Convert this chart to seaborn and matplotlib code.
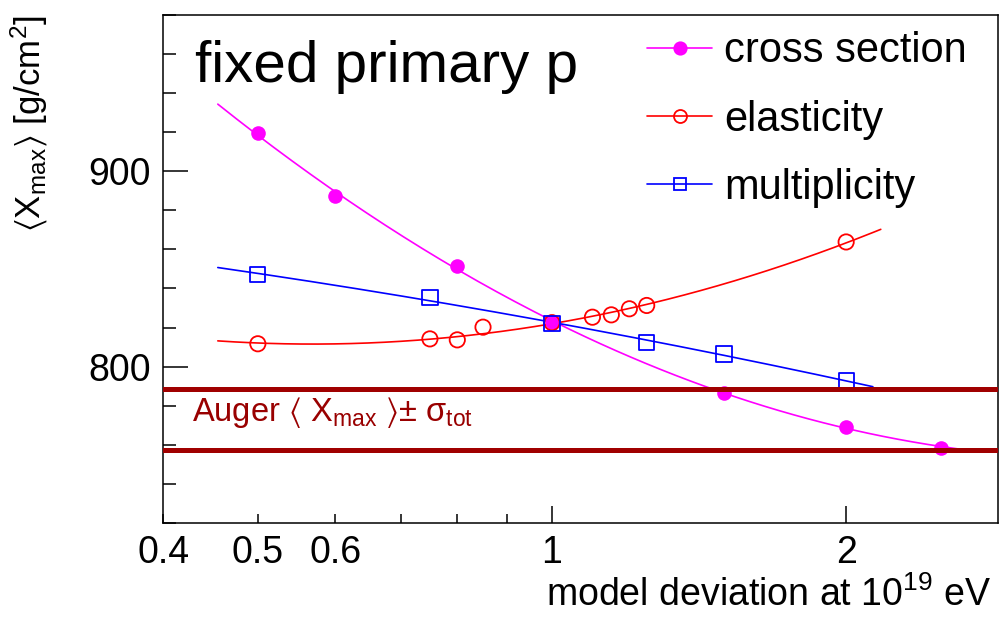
import numpy as np
import matplotlib
matplotlib.use("Agg")
import matplotlib.pyplot as plt
from matplotlib.lines import Line2D
from matplotlib.ticker import FixedLocator, FixedFormatter
import pandas as pd
import seaborn as sns

# Model-deviation scans of <Xmax> at 10^19 eV (fixed primary: proton)
cross_x = [0.5, 0.6, 0.8, 1.0, 1.5, 2.0, 2.5]
cross_y = [919.6, 887.2, 851.4, 822.8, 786.3, 769.3, 758.6]

elast_x = [0.5, 0.75, 0.8, 0.85, 1.0, 1.1, 1.15, 1.2, 1.25, 2.0]
elast_y = [811.7, 814.2, 813.7, 820.2, 822.5, 825.3, 826.5, 829.6, 831.3, 863.8]

mult_x = [0.5, 0.75, 1.0, 1.25, 1.5, 2.0]
mult_y = [847.2, 835.3, 821.9, 812.5, 806.5, 792.8]

# Fit ranges of the smooth curves
cross_fit_range = [0.455, 2.6]
elast_fit_range = [0.455, 2.17]
mult_fit_range = [0.455, 2.13]

# Auger <Xmax> +- sigma_tot band edges
auger_band = [788.7, 757.4]

sns.set_theme(style="ticks")
plt.rcParams["font.family"] = ["Liberation Sans", "DejaVu Sans"]
plt.rcParams["text.color"] = "black"
plt.rcParams["axes.labelcolor"] = "black"
plt.rcParams["mathtext.fontset"] = "custom"
plt.rcParams["mathtext.rm"] = "Liberation Sans"
plt.rcParams["mathtext.it"] = "Liberation Sans:italic"
plt.rcParams["mathtext.sf"] = "Liberation Sans"
plt.rcParams["mathtext.fallback"] = "stixsans"

fig = plt.figure(figsize=(10.07, 6.2), dpi=100)
ax = fig.add_axes([0.162, 0.1565, 0.829, 0.8195])
ax.set_xscale("log")

series = [
    ("cross section", cross_x, cross_y, cross_fit_range, "#ff00ff", "o", True, 10.5),
    ("elasticity", elast_x, elast_y, elast_fit_range, "#ff0000", "o", False, 11),
    ("multiplicity", mult_x, mult_y, mult_fit_range, "#0000ff", "s", False, 11),
]

handles = []
for name, xs, ys, rng, color, marker, filled, ms in series:
    u = np.log10(np.asarray(xs))
    coef = np.polyfit(u, np.asarray(ys), 2)
    xf = np.geomspace(rng[0], rng[1], 200)
    fit = pd.DataFrame({"x": xf, "y": np.polyval(coef, np.log10(xf))})
    sns.lineplot(data=fit, x="x", y="y", color=color, lw=1.2, ax=ax, zorder=2)
    pts = pd.DataFrame({"x": xs, "y": ys})
    sns.scatterplot(
        data=pts, x="x", y="y", marker=marker, s=ms ** 2,
        facecolor=color if filled else "none", edgecolor=color,
        linewidth=0 if filled else 1.3, ax=ax, zorder=3,
    )
    handles.append(Line2D([], [], color=color, lw=1.2, marker=marker,
                          markersize=ms * 0.85,
                          markerfacecolor=color if filled else "none",
                          markeredgecolor=color, markeredgewidth=1.3,
                          label=name))

for yb in auger_band:
    ax.axhline(yb, color="#a00000", lw=3.6, zorder=4)

ax.set_xlim(0.4, 2.86)
ax.set_ylim(720, 980)

ax.xaxis.set_major_locator(FixedLocator([1, 2]))
ax.xaxis.set_minor_locator(FixedLocator([0.4, 0.5, 0.6, 0.7, 0.8, 0.9]))
ax.xaxis.set_major_formatter(FixedFormatter(["1", "2"]))
ax.xaxis.set_minor_formatter(FixedFormatter(["0.4", "0.5", "0.6", "", "", ""]))
ax.yaxis.set_major_locator(FixedLocator([800, 900]))
ax.yaxis.set_minor_locator(FixedLocator(np.arange(720, 981, 20)))

ax.tick_params(axis="both", which="both", direction="in", color="black",
               labelsize=27, width=1.1, pad=9, labelcolor="black")
ax.tick_params(axis="x", which="major", length=12)
ax.tick_params(axis="x", which="minor", length=6.5)
ax.tick_params(axis="y", which="major", length=18)
ax.tick_params(axis="y", which="minor", length=9)

for sp in ax.spines.values():
    sp.set_visible(True)
    sp.set_color("black")
    sp.set_linewidth(1.1)

ax.set_xlabel("model deviation at 10$^{19}$ eV", fontsize=27, loc="right",
              color="black")
ax.xaxis.set_label_coords(0.992, -0.105)
ax.set_ylabel(r"$\langle$X$_{\rm max}$$\rangle$ [g/cm$^2$]", fontsize=25,
              loc="top", color="black")
ax.yaxis.set_label_coords(-0.135, 1.0)

ax.text(0.038, 0.868, "fixed primary p", transform=ax.transAxes,
        fontsize=42, va="baseline", ha="left", color="black")
ax.text(0.035, 0.2165,
        r"Auger $\langle$ X$_{\rm max}$ $\rangle$$\pm$ σ$_{\rm tot}$",
        transform=ax.transAxes, fontsize=23.5, va="center", ha="left",
        color="#990000")

leg = ax.legend(handles=handles, loc="upper right", bbox_to_anchor=(0.998, 1.025),
                frameon=False, fontsize=30, handlelength=1.55,
                handletextpad=0.3, labelspacing=0.68, borderpad=0.2)
for t in leg.get_texts():
    t.set_color("black")

ax.set_facecolor("white")
fig.patch.set_facecolor("white")
fig.savefig("out.png", dpi=100)
